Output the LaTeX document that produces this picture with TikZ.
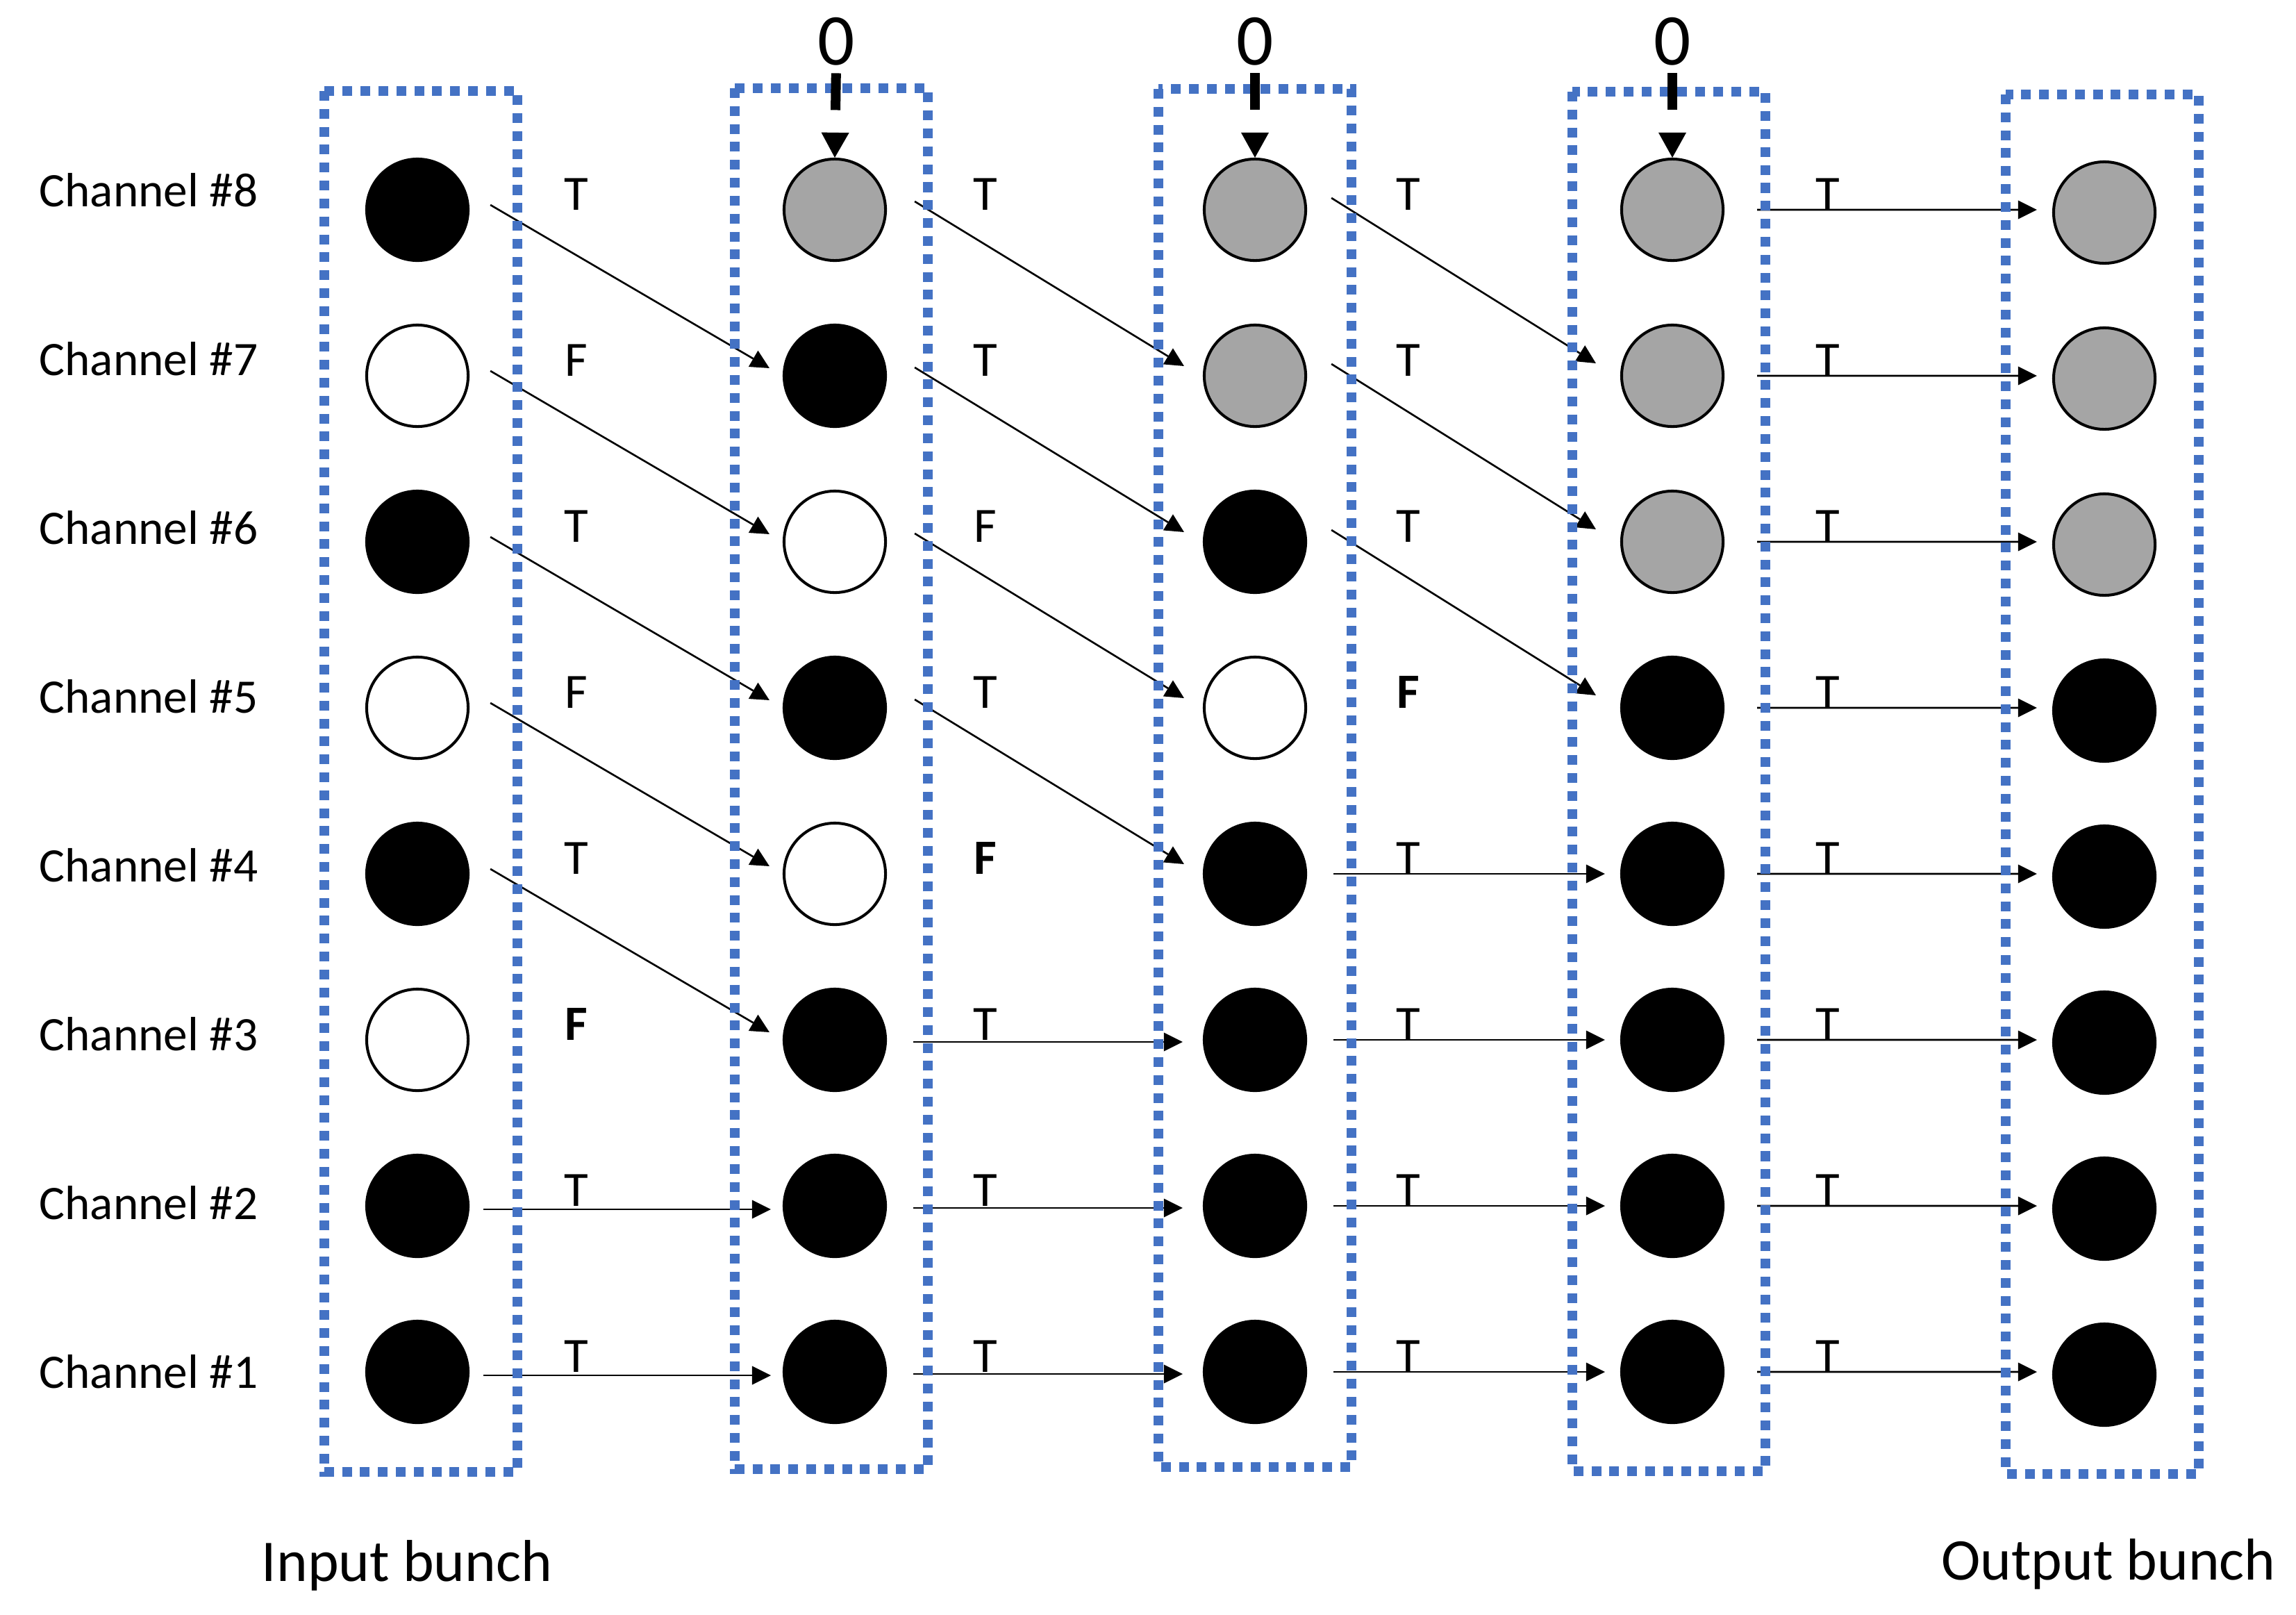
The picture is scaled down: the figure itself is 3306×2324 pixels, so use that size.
\documentclass[tikz,border=0pt]{standalone}
\usepackage{fontspec}
\setmainfont{Carlito}
\usetikzlibrary{arrows.meta,calc}
\definecolor{boxblue}{HTML}{4472C4}
\definecolor{ballgray}{HTML}{A5A5A5}
\begin{document}
\begin{tikzpicture}[x=0.01cm,y=-0.01cm,
  ball/.style={circle,minimum size=1.46cm,inner sep=0pt,line width=1.15pt,draw=black},
  bk/.style={ball,fill=black},
  wt/.style={ball,fill=white},
  gy/.style={ball,fill=ballgray},
  dotbox/.style={draw=boxblue,line width=0.14cm,dash pattern=on 0.14cm off 0.118cm},
  arr/.style={line width=0.75pt,-{Triangle[length=0.27cm,width=0.27cm,line width=0pt]}},
  zarrow/.style={line width=0.14cm,dash pattern=on 0.53cm off 2cm,shorten <=0.11cm,
    -{Triangle[length=0.36cm,width=0.40cm,line width=0pt]}},
  lbl/.style={anchor=base,inner sep=0pt,font=\fontsize{20.2pt}{24pt}\selectfont},
  chlbl/.style={anchor=base west,inner sep=0pt,font=\fontsize{19.7pt}{24pt}\selectfont},
  zlbl/.style={anchor=base,inner sep=0pt,font=\fontsize{29.9pt}{34pt}\selectfont},
  bunch/.style={anchor=base,inner sep=0pt,font=\fontsize{24.2pt}{29pt}\selectfont}]
\useasboundingbox (0,0) rectangle (3306,2324);

% balls (rows counted from bottom: r1 ... r8)
\foreach \st [count=\r] in {bk,bk,wt,bk,wt,bk,wt,bk}
  \node[\st] (c1r\r) at (601,{302+(8-\r)*239}) {};
\foreach \st [count=\r] in {bk,bk,bk,wt,bk,wt,bk,gy}
  \node[\st] (c2r\r) at (1202,{302+(8-\r)*239}) {};
\foreach \st [count=\r] in {bk,bk,bk,bk,wt,bk,gy,gy}
  \node[\st] (c3r\r) at (1807,{302+(8-\r)*239}) {};
\foreach \st [count=\r] in {bk,bk,bk,bk,bk,gy,gy,gy}
  \node[\st] (c4r\r) at (2408,{302+(8-\r)*239}) {};
\foreach \st [count=\r] in {bk,bk,bk,bk,bk,gy,gy,gy}
  \node[\st] (c5r\r) at (3030,{306+(8-\r)*239}) {};

% channel labels
\foreach \r in {1,...,8}
  \node[chlbl] (ch\r) at (56,{297+(8-\r)*243}) {Channel \#\r};

% T/F labels
\foreach \t [count=\r] in {T,T,{\textbf{F}},T,F,T,F,T}
  \node[lbl] (s1r\r) at (830,{302+(8-\r)*239}) {\t};
\foreach \t [count=\r] in {T,T,T,{\textbf{F}},T,F,T,T}
  \node[lbl] (s2r\r) at (1419,{302+(8-\r)*239}) {\t};
\foreach \t [count=\r] in {T,T,T,T,{\textbf{F}},T,T,T}
  \node[lbl] (s3r\r) at (2028,{302+(8-\r)*239}) {\t};
\foreach \t [count=\r] in {T,T,T,T,T,T,T,T}
  \node[lbl] (s4r\r) at (2632,{302+(8-\r)*239}) {\t};

% stage 1 connectors
\foreach \r [evaluate=\r as \s using int(\r-1)] in {4,...,8}
  \draw[arr] ([xshift=0.30cm,yshift=0.07cm]c1r\r.east) -- ([xshift=-0.19cm,yshift=0.11cm]c2r\s.west);
\foreach \r in {1,2}
  \draw[arr] ([xshift=0.20cm,yshift=-0.05cm]c1r\r.east) -- ([xshift=-0.17cm,yshift=-0.05cm]c2r\r.west);

% stage 2 connectors
\foreach \r [evaluate=\r as \s using int(\r-1)] in {5,...,8}
  \draw[arr] ([xshift=0.40cm,yshift=0.12cm]c2r\r.east) -- ([xshift=-0.27cm,yshift=0.14cm]c3r\s.west);
\foreach \r in {1,2,3}
  \draw[arr] ([xshift=0.38cm,yshift=-0.03cm]c2r\r.east) -- ([xshift=-0.29cm,yshift=-0.03cm]c3r\r.west);

% stage 3 connectors
\foreach \r [evaluate=\r as \s using int(\r-1)] in {6,...,8}
  \draw[arr] ([xshift=0.35cm,yshift=0.17cm]c3r\r.east) -- ([xshift=-0.35cm,yshift=0.18cm]c4r\s.west);
\foreach \r in {1,...,4}
  \draw[arr] ([xshift=0.38cm]c3r\r.east) -- ([xshift=-0.22cm]c4r\r.west);

% stage 4 connectors
\foreach \r in {1,...,8}
  \draw[arr] ([xshift=0.47cm]c4r\r.east) -- ([xshift=-0.22cm,yshift=0.04cm]c5r\r.west);

% dotted bunch boxes
\draw[dotbox] (467,131) rectangle (745,2119);
\draw[dotbox] (1058,127) rectangle (1336,2115);
\draw[dotbox] (1668,128) rectangle (1946,2112);
\draw[dotbox] (2264,132) rectangle (2542,2118);
\draw[dotbox] (2888,136) rectangle (3166,2122);

% inserted zeros
\node[zlbl] (z2) at (1204,93) {0};
\node[zlbl] (z3) at (1807,93) {0};
\node[zlbl] (z4) at (2408,93) {0};
\draw[zarrow] (z2.south) -- (c2r8.north);
\draw[zarrow] (z3.south) -- (c3r8.north);
\draw[zarrow] (z4.south) -- (c4r8.north);

% captions
\node[bunch] (inb) at (586,2276) {Input bunch};
\node[bunch] (outb) at (3036,2274) {Output bunch};
\end{tikzpicture}
\end{document}
